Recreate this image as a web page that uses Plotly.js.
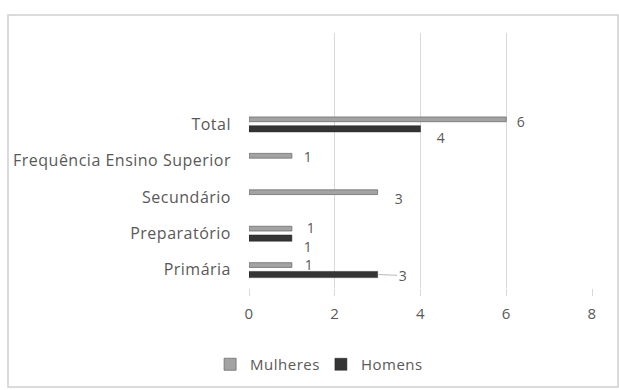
<!DOCTYPE html>
<html>
<head>
<meta charset="utf-8">
<script src="https://cdn.plot.ly/plotly-3.0.1.min.js"></script>
<style>
html,body{margin:0;padding:0;background:#fff;}
#chart{width:619px;height:390px;}
#chart text{letter-spacing:0.5px;}
</style>
</head>
<body>
<div id="chart"></div>
<script>
// Data (bottom to top)
const categories = ["Primária", "Preparatório", "Secundário", "Frequência Ensino Superior", "Total"];
const mulheres = [1, 1, 3, 1, 6];
const homens = [3, 1, null, null, 4];

const catIndex = categories.map((c, i) => i);
const mOff = 0.13, hOff = -0.13;

const traceM = {
  type: 'bar', orientation: 'h', name: 'Mulheres',
  x: mulheres, y: catIndex.map(i => i),
  width: 0.13, offset: mOff - 0.065,
  marker: {color: '#a3a3a3', line: {color: '#6e6e6e', width: 0.8}},
  hoverinfo: 'x'
};
const traceH = {
  type: 'bar', orientation: 'h', name: 'Homens',
  x: homens, y: catIndex.map(i => i),
  width: 0.17, offset: hOff - 0.085,
  marker: {color: '#353535', line: {color: '#222', width: 0.5}},
  hoverinfo: 'x'
};

// label offsets (px) per category index
const mShift = [[17, 1], [19, 1], [21, -6], [16, -1], [15, -2]];
const hShift = [[0, 0], [16, -8], [0, 0], [0, 0], [20, -9]];

const fam = 'Open Sans, sans-serif';
const grey = '#595959';
const labelFont = {family: fam, size: 14, color: grey};
const annotations = [];
mulheres.forEach((v, i) => {
  if (v == null) return;
  annotations.push({x: v, y: i + mOff, xref: 'x', yref: 'y', text: String(v), showarrow: false,
    xshift: mShift[i][0], yshift: mShift[i][1], font: labelFont, borderpad: 0});
});
homens.forEach((v, i) => {
  if (v == null) return;
  if (i === 0) {
    annotations.push({x: v, y: i + hOff, xref: 'x', yref: 'y', text: String(v), showarrow: true,
      ax: 25, ay: 1, arrowhead: 0, arrowwidth: 0.8, arrowcolor: '#a6a6a6', standoff: 1, font: labelFont});
  } else {
    annotations.push({x: v, y: i + hOff, xref: 'x', yref: 'y', text: String(v), showarrow: false,
      xshift: hShift[i][0], yshift: hShift[i][1], font: labelFont, borderpad: 0});
  }
});

const layout = {
  width: 619, height: 390,
  margin: {l: 249, r: 27, t: 33, b: 102, autoexpand: false},
  paper_bgcolor: '#fff', plot_bgcolor: '#fff',
  font: {family: fam, size: 15, color: grey},
  showlegend: true,
  legend: {orientation: 'h', x: 0.2, xanchor: 'center', y: -0.30, yanchor: 'middle',
    font: {family: fam, size: 15, color: grey}, traceorder: 'normal', itemwidth: 30},
  xaxis: {range: [0, 8], dtick: 2, tick0: 0, showgrid: true, gridcolor: '#d9d9d9', gridwidth: 1,
    zeroline: false, showline: false, ticks: 'outside', ticklen: 7, tickcolor: '#d9d9d9',
    tickfont: {family: fam, size: 15, color: grey}, ticklabelstandoff: 5, fixedrange: true,
    automargin: false},
  yaxis: {range: [-0.5, 6.5], tickvals: catIndex, ticktext: categories, showgrid: false,
    zeroline: false, showline: false, ticks: '', tickfont: {family: fam, size: 16, color: grey},
    ticklabelstandoff: 17, fixedrange: true, automargin: false},
  annotations: annotations,
  shapes: [
    {type: 'rect', xref: 'paper', yref: 'paper', x0: (8 - 249) / 343, x1: (618 - 249) / 343,
      y0: (288 - 387) / 255, y1: (288 - 15) / 255, line: {color: '#d0d0d0', width: 1.5}, layer: 'below'}
  ],
  bargap: 0, barmode: 'overlay'
};

Plotly.newPlot('chart', [traceM, traceH], layout, {staticPlot: true});
</script>
</body>
</html>
